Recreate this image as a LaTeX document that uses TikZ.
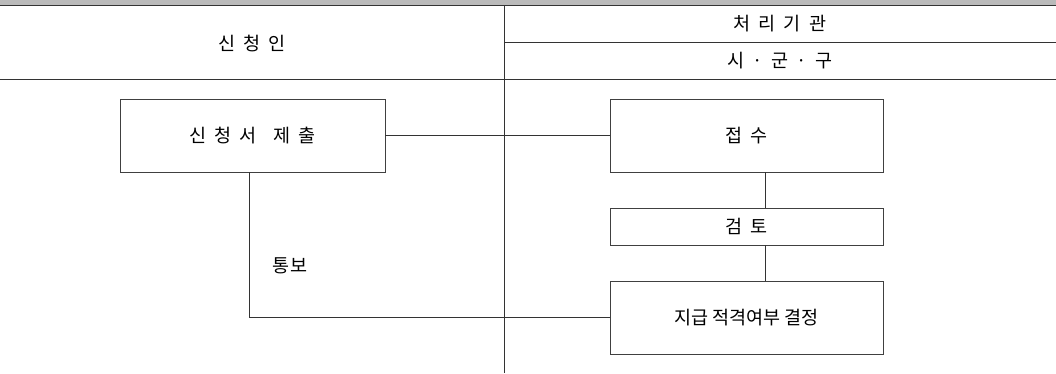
\documentclass[tikz,border=0pt]{standalone}
\usepackage{fontspec}
\newfontfamily\korfont{Noto Sans CJK KR}
\usepackage{tikz}
\usetikzlibrary{positioning,calc}

\newcommand{\gp}{\hspace{8pt}}

\begin{document}
\begin{tikzpicture}[x=1pt,y=-1pt,
		font=\korfont\fontsize{18.5}{21}\selectfont,
		box/.style={draw=black!75, line width=0.8pt, minimum width=273pt, inner sep=0pt},
		rule/.style={draw=black!80, line width=0.9pt},
		link/.style={draw=black!80, line width=0.8pt}]
		\useasboundingbox (0,0) rectangle (1056,373);

		% table header
		\fill[black!27] (0,0) rectangle (1056,5);
		\draw[rule] (0,5.5) -- (1056,5.5);
		\draw[rule] (504,5.5) -- (504,373);
		\draw[rule] (504,42) -- (1056,42);
		\draw[rule] (0,79) -- (1056,79);

		\node (applicant) at (252,44) {신\gp 청\gp 인};
		\node (agency) at (780,24) {처\gp 리\gp 기\gp 관};
		\node (sigungu) at (780,61) {시\hspace{4pt} ·\hspace{4pt} 군\hspace{4pt} ·\hspace{4pt} 구};

		% boxes
		\node[box, minimum width=265pt, minimum height=73pt] (sincheong) at (252.5,135.5) {신\gp 청\gp 서\gp\gp 제\gp 출};
		\node[box, minimum height=73pt] (jeopsu) at (746.5,135.5) {접\gp 수};
		\node[box, minimum height=37pt] (geomto) at (746.5,226.5) {검\gp 토};
		\node[box, minimum height=73pt] (jigeup) at (746.5,317.5) {지급 적격여부 결정};
		\node (tongbo) at (290,266) {통보};

		% connectors
		\draw[link] (sincheong.east) -- (jeopsu.west);
		\draw[link] ([xshift=19pt]jeopsu.south) -- ([xshift=19pt]geomto.north);
		\draw[link] ([xshift=19pt]geomto.south) -- ([xshift=19pt]jigeup.north);
		\draw[link] ([xshift=-3.5pt]sincheong.south) |- (jigeup.west);
	\end{tikzpicture}
\end{document}
